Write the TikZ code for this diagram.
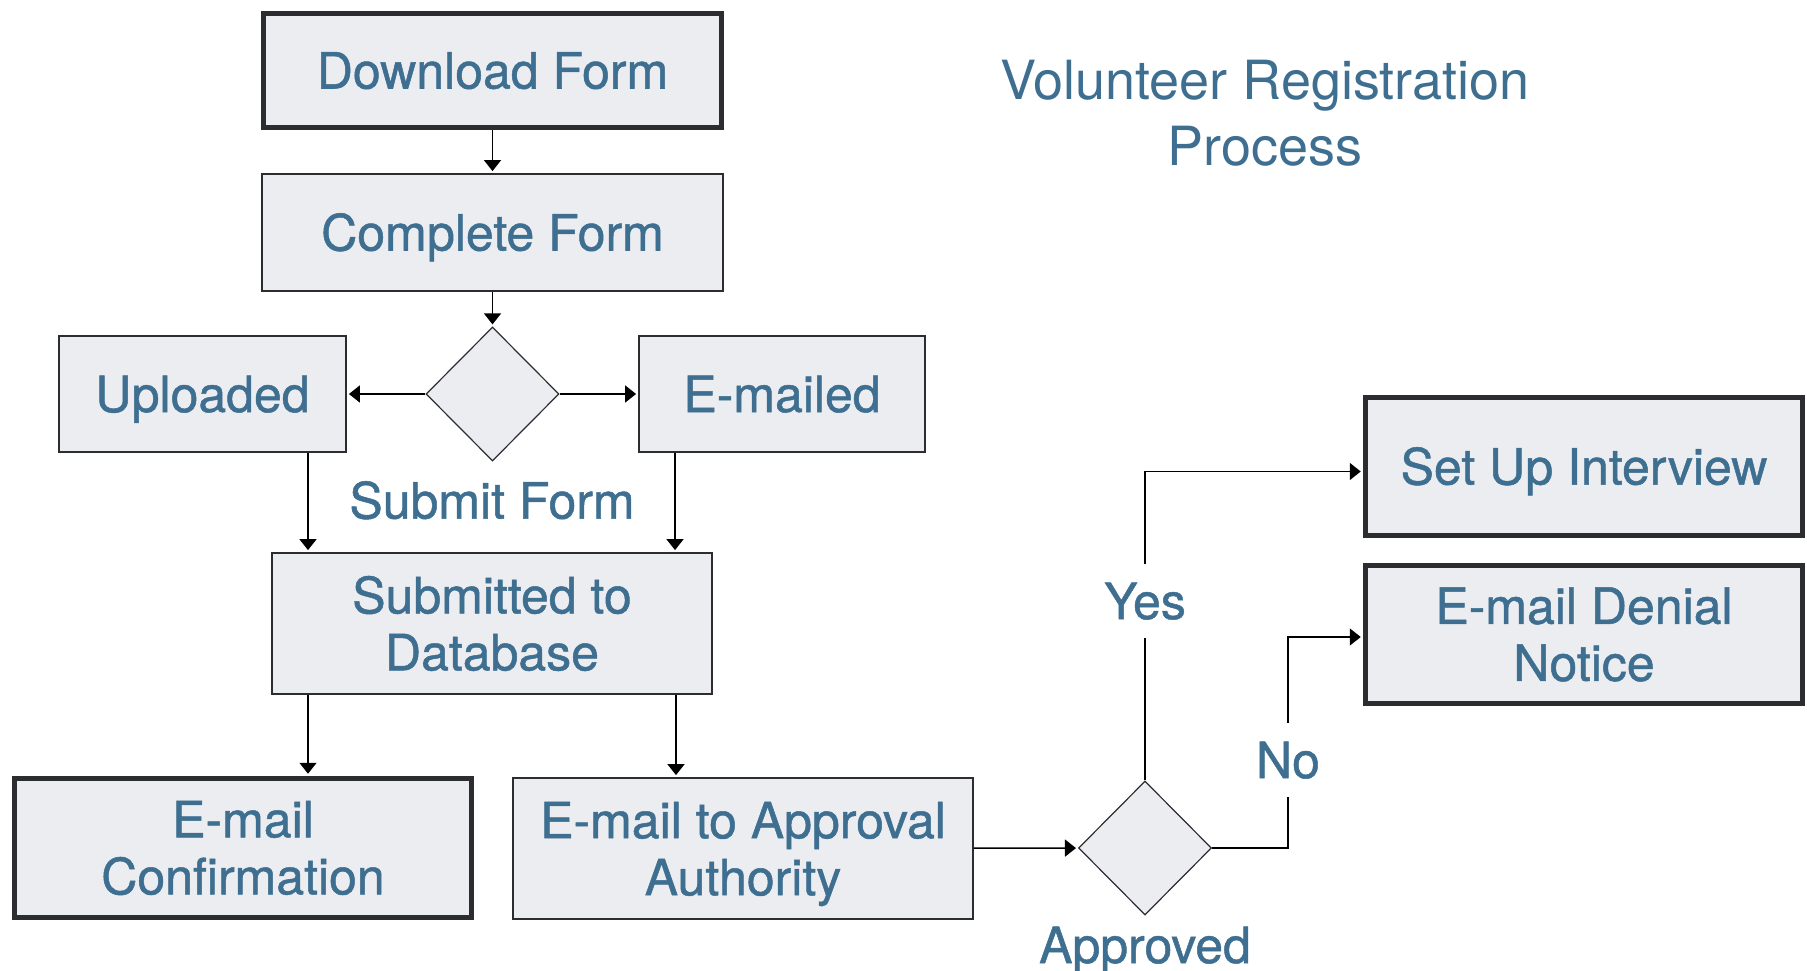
\documentclass[tikz,border=0pt]{standalone}
\usepackage{fontspec}
\setmainfont{TeX Gyre Heros}
\newfontfamily\boxFont{TeX Gyre Heros}[FakeBold=1.0]
\usetikzlibrary{arrows.meta,shapes.geometric}
\definecolor{labelColor}{RGB}{62,111,145}
\definecolor{boxFill}{RGB}{236,237,241}
\definecolor{edgeColor}{RGB}{43,45,49}
\tikzstyle{chart} = [x = 1pt, y = -1pt]
\tikzstyle{stepBox} = [draw=edgeColor, fill=boxFill, line width=1.8pt, text=labelColor, align=center, inner sep=0pt, font=\boxFont\fontsize{50}{57}\selectfont]
\tikzstyle{endBox} = [stepBox, line width=5.5pt]
\tikzstyle{oneLine} = [text height=36pt, text depth=0pt]
\tikzstyle{choice} = [diamond, draw=edgeColor, fill=boxFill, line width=1.2pt, inner sep=0pt, minimum width=133pt, minimum height=134pt]
\tikzstyle{flow} = [draw=black, line width=1.5pt, -{Triangle[length=11pt, width=17pt]}, shorten >=2pt]
\tikzstyle{plainLine} = [draw=black, line width=1.5pt]
\tikzstyle{caption} = [text=labelColor, inner sep=0pt, oneLine, font=\boxFont\fontsize{50}{57}\selectfont]
\tikzset{boxSize/.style 2 args={minimum width=#1pt, minimum height=#2pt}}

\begin{document}
\begin{tikzpicture}[chart]
  \useasboundingbox (0,0) rectangle (1807,971);

  % title
  \node [text=labelColor, align=center, font=\fontsize{54}{66}\selectfont] (title) at (1265,113) {Volunteer Registration\\Process};

  % left column
  \node [endBox, oneLine, boxSize={458}{114}] (download) at (492.5,70.5) {Download Form};
  \node [stepBox, oneLine, boxSize={461}{117}] (complete) at (492.5,232.5) {Complete Form};
  \node [choice] (submit) at (492.5,394) {};
  \node [caption] (submitText) at (492,500.5) {Submit Form};
  \node [stepBox, oneLine, boxSize={287}{116}] (uploaded) at (202.5,394) {Uploaded};
  \node [stepBox, oneLine, boxSize={286}{116}] (emailed) at (782,394) {E-mailed};
  \node [stepBox, boxSize={440}{141}] (database) at (492,623.5) {Submitted to\\Database};
  \node [endBox, boxSize={457}{139}] (confirm) at (243,848) {E-mail\\Confirmation};
  \node [stepBox, boxSize={460}{141}] (approval) at (743,848.5) {E-mail to Approval\\\smash{Authority}};

  % decision
  \node [choice] (approved) at (1145,848) {};
  \node [caption] (approvedText) at (1145,945) {Approved};
  \node [caption, minimum height=74pt] (yes) at (1145,601) {Yes};
  \node [caption, minimum height=74pt] (no) at (1288,760) {No};
  \node [endBox, oneLine, boxSize={437}{138}] (interview) at (1584,466.5) {Set Up Interview};
  \node [endBox, boxSize={437}{138}] (denial) at (1584,634.5) {E-mail Denial\\Notice};

  \draw [flow] (download) -- (complete);
  \draw [flow] (complete) -- (submit);
  \draw [flow] (submit) -- (uploaded);
  \draw [flow] (submit) -- (emailed);
  \draw [flow] (uploaded.south -| 308,0) -- (database.north -| 308,0);
  \draw [flow] (emailed.south -| 675,0) -- (database.north -| 675,0);
  \draw [flow] (database.south -| 308,0) -- (confirm.north -| 308,0);
  \draw [flow] (database.south -| 676,0) -- (approval.north -| 676,0);
  \draw [flow] (approval) -- (approved);

  \draw [plainLine] (approved.north) -- (yes);
  \draw [flow] (yes) |- ([yshift=-5pt]interview.west);
  \draw [plainLine] (approved.east) -| (no);
  \draw [flow] (no) |- ([yshift=-2.5pt]denial.west);
\end{tikzpicture}
\end{document}
